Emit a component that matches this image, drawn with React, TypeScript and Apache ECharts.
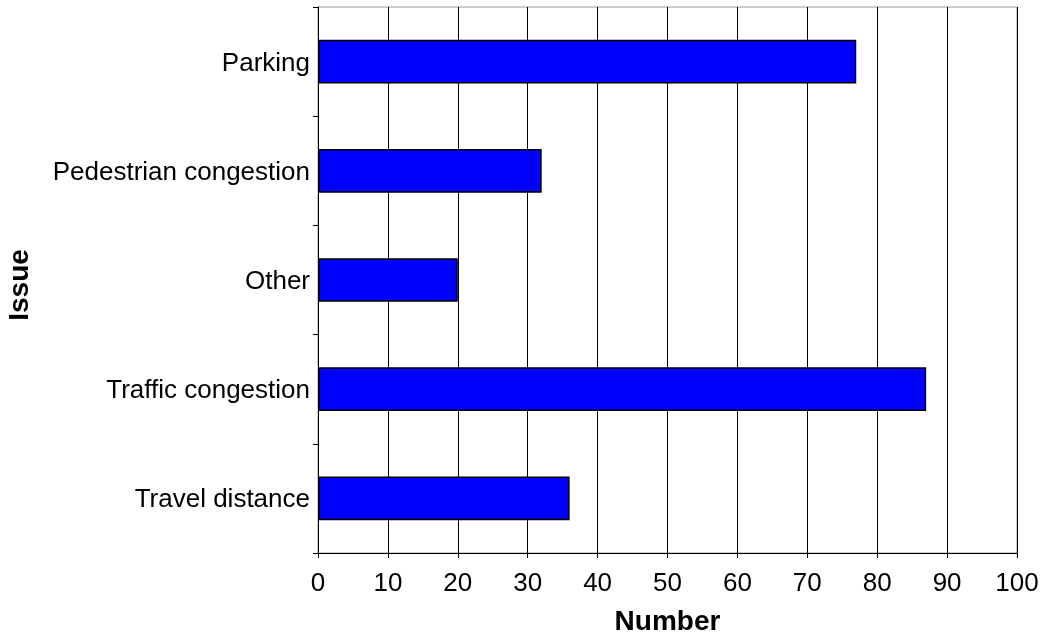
import React, { useEffect, useRef } from "react";
import * as echarts from "echarts";

const categories = ["Parking", "Pedestrian congestion", "Other", "Traffic congestion", "Travel distance"];
const values = [77, 32, 20, 87, 36];
const xTicks = { min: 0, max: 100, interval: 10 };

export default function App() {
  const ref = useRef<HTMLDivElement>(null);
  useEffect(() => {
    const chart = echarts.init(ref.current!, null, { renderer: "svg" });
    const font = "Liberation Sans, Arial, sans-serif";
    chart.setOption({
      animation: false,
      grid: {
        left: 318, right: 33, top: 7, bottom: 84,
        show: true, borderColor: "#999", borderWidth: 1,
        containLabel: false, outerBoundsMode: "none",
      },
      xAxis: {
        type: "value",
        min: xTicks.min,
        max: xTicks.max,
        interval: xTicks.interval,
        name: "Number",
        nameLocation: "middle",
        nameGap: 53,
        nameTextStyle: { fontFamily: font, fontSize: 28, fontWeight: "bold", color: "#000" },
        axisLine: { show: true, lineStyle: { color: "#000", width: 1 } },
        axisTick: { show: true, length: 5, lineStyle: { color: "#000" } },
        axisLabel: { fontFamily: font, fontSize: 26, color: "#000", margin: 16 },
        splitLine: { show: true, lineStyle: { color: "#000", width: 1 } },
      },
      yAxis: {
        type: "category",
        data: categories,
        inverse: true,
        name: "Issue",
        nameLocation: "middle",
        nameGap: 286,
        nameTextStyle: { fontFamily: font, fontSize: 28, fontWeight: "bold", color: "#000", padding: [0, 10, 0, 0] },
        axisLine: { show: true, lineStyle: { color: "#000", width: 1 } },
        axisTick: { show: true, length: 5, lineStyle: { color: "#000" } },
        axisLabel: { fontFamily: font, fontSize: 26, color: "#000", margin: 8 },
        splitLine: { show: false },
      },
      series: [
        {
          type: "bar",
          data: values,
          barCategoryGap: "60%",
          itemStyle: { color: "#0000ff", borderColor: "#000", borderWidth: 1.5 },
        },
      ],
    });
    return () => chart.dispose();
  }, []);
  return <div ref={ref} style={{ position: "fixed", left: 0, top: 0, width: 1050, height: 637 }} />;
}
